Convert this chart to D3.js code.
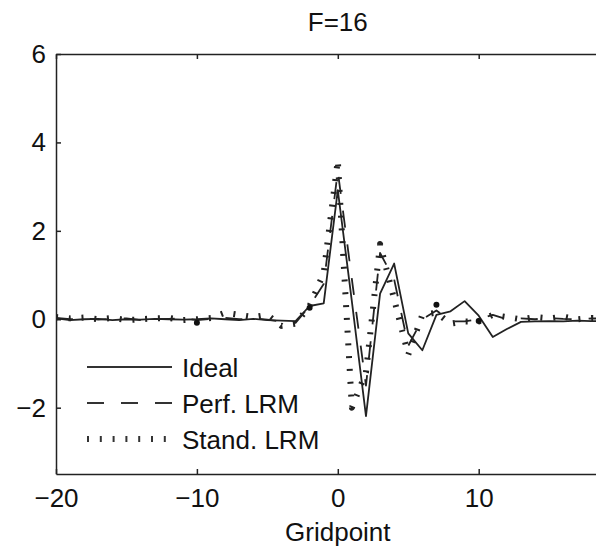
<!DOCTYPE html>
<html>
<head>
<meta charset="utf-8">
<script src="https://cdn.jsdelivr.net/npm/d3@7"></script>
<style>
  body { margin: 0; background: #fff; }
  svg { display: block; font-family: "Liberation Sans", Arial, sans-serif; }
  .axis path, .axis line { stroke: #222; stroke-width: 1.5; }
  .axis text { font-size: 26px; fill: #111; }
</style>
</head>
<body>
<div id="chart"></div>
<script>
(function gridpoint_chart() {

  // gridpoints -20 .. 20
  let gridpoints = d3.range(-20, 21);

  let ideal = [
    0.02, -0.02, 0.00, 0.01, -0.02, 0.00, -0.01, 0.01, 0.00, -0.01,
    0.00, 0.02, 0.00, -0.02, 0.01, -0.02, -0.03, -0.04, 0.30, 0.36,
    2.92, 0.40, -2.19, 0.58, 1.26, -0.32, -0.70, 0.10, 0.18, 0.41,
    0.08, -0.40, -0.22, -0.06, -0.05, -0.04, -0.05, -0.03, -0.04, -0.05,
    -0.04
  ];

  let perfLRM = [
    0.03, 0.00, 0.02, -0.01, 0.01, 0.02, -0.02, 0.00, 0.01, 0.02,
    -0.02, 0.01, 0.03, 0.00, 0.02, -0.01, -0.05, -0.08, 0.30, 0.80,
    3.35, 0.90, -1.50, 1.50, 0.90, -0.60, 0.00, 0.20, -0.05, -0.05,
    0.00, 0.10, 0.00, 0.02, 0.00, 0.03, 0.01, 0.00, 0.02, 0.01,
    0.00
  ];

  let standLRM = [
    0.05, 0.02, 0.04, 0.00, 0.03, -0.02, 0.00, 0.02, 0.03, -0.02,
    0.00, 0.03, 0.15, 0.10, 0.05, 0.10, -0.15, -0.10, 0.30, 1.05,
    3.60, -2.00, -1.20, 1.70, 0.45, -0.80, 0.10, 0.15, -0.10, -0.05,
    -0.05, 0.10, 0.05, 0.00, 0.05, 0.02, 0.06, 0.00, 0.03, 0.02,
    0.00
  ];

  // small filled markers seen on the curves
  let dotX = [-10, -2, 7, 10];
  let dotY = [-0.08, 0.26, 0.33, -0.04];

  let seriesNames = ["Ideal", "Perf. LRM", "Stand. LRM"];
  let xTicks = [-20, -10, 0, 10];
  let yTicks = [-2, 0, 2, 4, 6];

  let width = 596,
    height = 550,
    margin = ({ top: 54, left: 56, bottom: 76 }),
    plotRight = 619.6;

  const svg = d3.select("#chart")
    .append("svg")
    .attr("width", width)
    .attr("height", height);

  let x = d3.scaleLinear()
    .domain([-20, 20])
    .range([margin.left, plotRight]);

  let y = d3.scaleLinear()
    .domain([-3.5, 6])
    .range([height - margin.bottom, margin.top]);

  svg.append("clipPath")
    .attr("id", "plot-clip")
    .append("rect")
    .attr("x", margin.left)
    .attr("y", margin.top)
    .attr("width", plotRight - margin.left)
    .attr("height", height - margin.bottom - margin.top);

  // axes (box with inward ticks)
  svg.append("g")
    .attr("class", "axis")
    .attr("transform", `translate(0,${height - margin.bottom})`)
    .call(d3.axisBottom(x).tickValues(xTicks).tickSizeInner(-5).tickSizeOuter(0).tickPadding(15));

  svg.append("g")
    .attr("class", "axis")
    .attr("transform", `translate(0,${margin.top})`)
    .call(d3.axisTop(x).tickValues(xTicks).tickSizeInner(-5).tickSizeOuter(0).tickFormat(""));

  svg.append("g")
    .attr("class", "axis")
    .attr("transform", `translate(${margin.left},0)`)
    .call(d3.axisLeft(y).tickValues(yTicks).tickSizeInner(-5).tickSizeOuter(0).tickPadding(10));

  svg.selectAll(".axis .domain").attr("fill", "none");

  // title and x label
  svg.append("text")
    .attr("x", x(0))
    .attr("y", 31)
    .attr("text-anchor", "middle")
    .attr("font-size", 26)
    .attr("fill", "#111")
    .text("F=16");

  svg.append("text")
    .attr("x", x(0))
    .attr("y", 541)
    .attr("text-anchor", "middle")
    .attr("font-size", 26)
    .attr("fill", "#111")
    .text("Gridpoint");

  let styles = [
    { dash: null, w: 1.8 },
    { dash: "17,17", w: 1.8 },
    { dash: "2,10.8", w: 6 }
  ];
  let allSeries = [ideal, perfLRM, standLRM];

  let line = d3.line()
    .x((d, i) => x(gridpoints[i]))
    .y(d => y(d));

  let plot = svg.append("g").attr("clip-path", "url(#plot-clip)");

  allSeries.forEach((vals, k) => {
    plot.append("path")
      .datum(vals)
      .attr("fill", "none")
      .attr("stroke", "#222")
      .attr("stroke-width", styles[k].w)
      .attr("stroke-dasharray", styles[k].dash)
      .attr("stroke-linejoin", "round")
      .attr("d", line);
  });

  plot.selectAll("circle")
    .data(dotX)
    .join("circle")
    .attr("cx", d => x(d))
    .attr("cy", (d, i) => y(dotY[i]))
    .attr("r", 3)
    .attr("fill", "#111");

  // legend
  let legend = svg.append("g");
  seriesNames.forEach((name, k) => {
    let ly = 367 + k * 36;
    legend.append("line")
      .attr("x1", 87)
      .attr("x2", 172)
      .attr("y1", ly)
      .attr("y2", ly)
      .attr("stroke", "#333")
      .attr("stroke-width", styles[k].w)
      .attr("stroke-dasharray", styles[k].dash);
    legend.append("text")
      .attr("x", 182)
      .attr("y", ly + 10)
      .attr("font-size", 26)
      .attr("fill", "#111")
      .text(name);
  });

})();
</script>
</body>
</html>
